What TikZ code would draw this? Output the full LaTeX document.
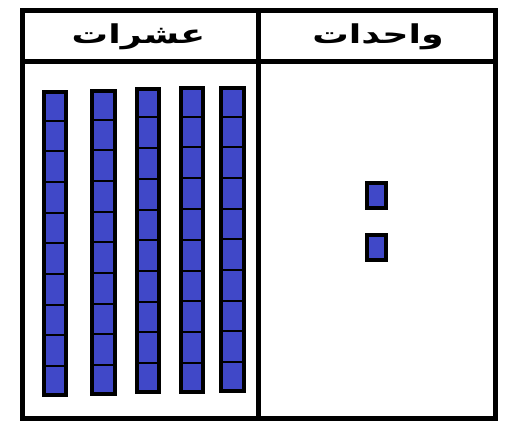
\documentclass[tikz,border=0pt]{standalone}
\usepackage{fontspec}
\newfontfamily\arabicfont[Script=Arabic]{DejaVu Sans}
\TeXXeTstate=1
\definecolor{blockblue}{RGB}{64,72,200}
\tikzset{
  frame/.style={line width=5pt, draw=black},
  cell/.style={fill=blockblue, draw=black, line width=2pt},
  barout/.style={draw=black, line width=4pt},
  head/.style={font=\arabicfont\bfseries\fontsize{26}{30}\selectfont, inner sep=0pt, anchor=base, xscale=1.4},
}
\begin{document}
\begin{tikzpicture}[x=1pt,y=-1pt]
\useasboundingbox (0,0) rectangle (509,432);
% frame
\draw[frame] (22,10.5) rectangle (495.5,418.5);
\draw[frame] (22,61) -- (495.5,61);
\draw[frame] (258.5,10.5) -- (258.5,418.5);
% headers
\node[head] (tens) at (138.5,43) {\beginR عشرات\endR};
\node[head] (units) at (378,43) {\beginR واحدات\endR};
% ten-bars
\foreach \xl/\xr/\yt/\yb in {42/67.7/90/396.7, 90/116.7/89/395.7, 135.3/160.7/86.7/393.7, 179/205/85.7/393.7, 219/245.7/86/392.7}{
  \pgfmathsetmacro{\h}{(\yb-\yt)/10}
  \fill[blockblue] (\xl,\yt) rectangle (\xr,\yb);
  \foreach \k in {1,...,9}{
    \draw[black, line width=2pt] (\xl,\yt+\k*\h) -- (\xr,\yt+\k*\h);
  }
  \draw[barout] (\xl+2,\yt+2) rectangle (\xr-2,\yb-2);
}
% units
\draw[cell, line width=4pt] (367,183) rectangle (385.7,208);
\draw[cell, line width=4pt] (367,234.7) rectangle (385.7,259.7);
\end{tikzpicture}
\end{document}
